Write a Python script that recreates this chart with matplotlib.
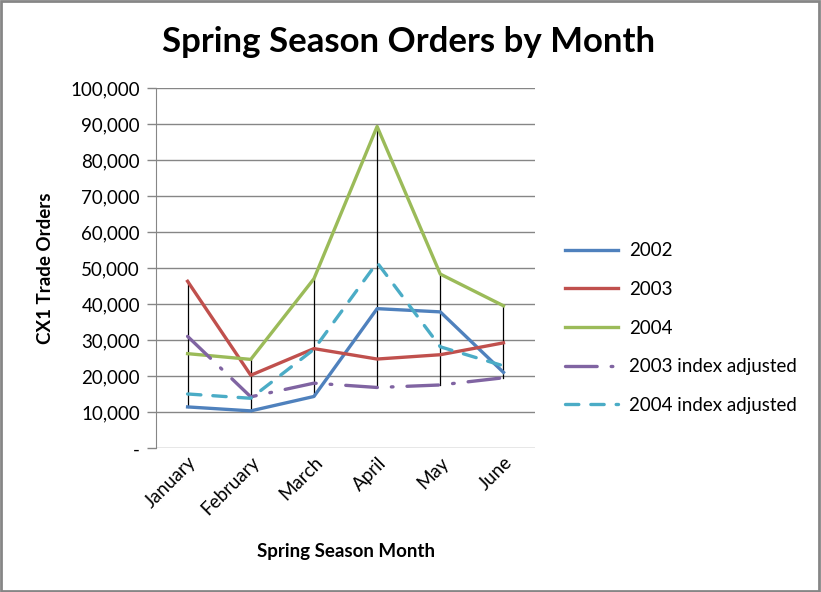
import matplotlib
matplotlib.use("Agg")
import matplotlib.pyplot as plt
from matplotlib.patches import Rectangle
from matplotlib.ticker import FuncFormatter

months = ["January", "February", "March", "April", "May", "June"]
orders_2002 = [11500, 10400, 14400, 38800, 37900, 21100]
orders_2003 = [46400, 20300, 27700, 24800, 26000, 29300]
orders_2004 = [26300, 24700, 47100, 89400, 48400, 39600]
orders_2003_adj = [31100, 14300, 18100, 16900, 17600, 19600]
orders_2004_adj = [15100, 13900, 27500, 51600, 28200, 22900]

plt.rcParams['font.family'] = ['Lato', 'DejaVu Sans']


def fmt(v, pos):
    if v == 0:
        return "-"
    return f"{int(v):,}"


def main():
    fig = plt.figure(figsize=(8.21, 5.92), dpi=100)
    ax = fig.add_axes([0.190, 0.2427, 0.4617, 0.6081])

    x = list(range(len(months)))
    series = [orders_2002, orders_2003, orders_2004, orders_2003_adj, orders_2004_adj]

    # high-low lines across all series
    for i in x:
        vals = [s[i] for s in series]
        ax.plot([i, i], [min(vals), max(vals)], color="black", lw=0.9, zorder=2)

    lw = 2.4
    ax.plot(x, orders_2002, color="#4F81BD", lw=lw, label="2002", zorder=3)
    ax.plot(x, orders_2003, color="#C0504D", lw=lw, label="2003", zorder=3)
    ax.plot(x, orders_2004, color="#9BBB59", lw=lw, label="2004", zorder=3)
    ax.plot(x, orders_2003_adj, color="#8064A2", lw=lw, label="2003 index adjusted",
            dashes=(9.5, 4.2, 0.5, 4.2), dash_capstyle="round", zorder=3)
    ax.plot(x, orders_2004_adj, color="#4BACC6", lw=lw, label="2004 index adjusted",
            dashes=(4.0, 3.6), dash_capstyle="round", zorder=3)

    ax.set_xlim(-0.5, 5.5)
    ax.set_ylim(0, 100000)
    ax.set_yticks(range(0, 100001, 10000))
    ax.yaxis.set_major_formatter(FuncFormatter(fmt))
    ax.grid(axis="y", color="#868686", lw=1)
    ax.set_axisbelow(True)

    for s in ["top", "right", "bottom"]:
        ax.spines[s].set_visible(False)
    ax.spines["left"].set_color("#868686")

    ax.tick_params(axis="y", length=6.5, width=1, color="#868686", pad=5,
                   labelsize=13.5)
    ax.tick_params(axis="x", length=0, pad=4, labelsize=13.5)
    ax.set_xticks(x)
    ax.set_xticklabels(months, rotation=45, ha="right", rotation_mode="anchor")

    ax.set_ylabel("CX1 Trade Orders", fontsize=13.5, fontweight="bold", labelpad=12)
    ax.set_xlabel("Spring Season Month", fontsize=13.5, fontweight="bold", labelpad=18)
    fig.text(0.498, 0.929, "Spring Season Orders by Month", fontsize=25,
             fontweight="bold", ha="center", va="center")

    ax.legend(loc="center left", bbox_to_anchor=(1.035, 0.334), frameon=False,
              fontsize=13.5, handlelength=2.8, labelspacing=1.15, handletextpad=0.6)

    fig.patches.append(Rectangle((0.001, 0.002), 0.997, 0.996, transform=fig.transFigure,
                                 fill=False, edgecolor="#868686", lw=2))

    fig.savefig("out.png", dpi=100)


if __name__ == "__main__":
    main()
